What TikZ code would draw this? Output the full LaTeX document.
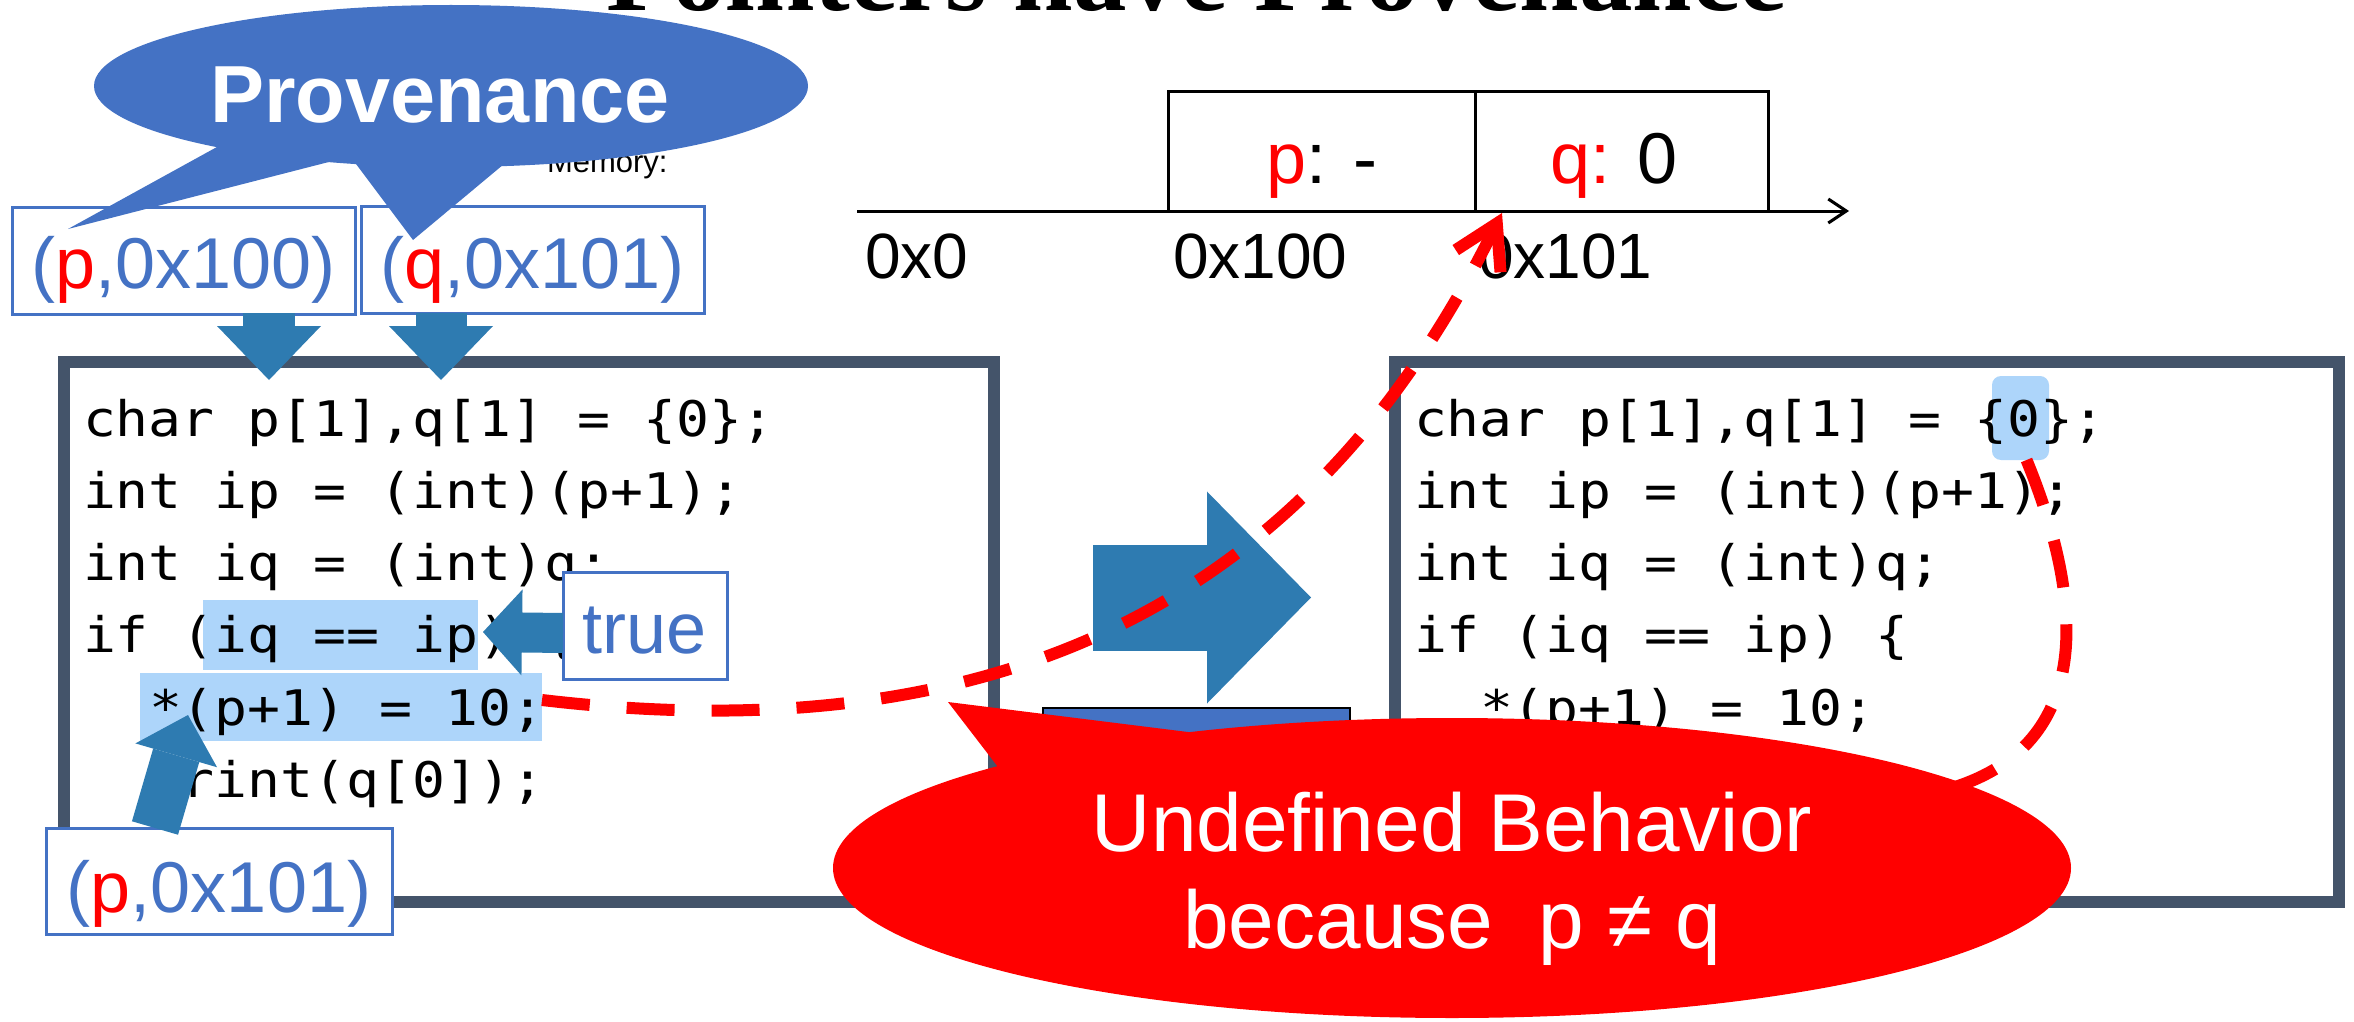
\documentclass[tikz,border=0pt]{standalone}
\usepackage{fontspec}
\setmainfont{Liberation Sans}
\newfontfamily\titlefont{Liberation Serif}
\newfontfamily\codefont{DejaVu Sans Mono}[FakeStretch=1.117]
\usetikzlibrary{arrows.meta,shapes.geometric}
\definecolor{provblue}{HTML}{4472C4}
\definecolor{arrowblue}{HTML}{2E7BB1}
\definecolor{slate}{HTML}{44546A}
\definecolor{hilite}{HTML}{ADD5FA}
\definecolor{ubred}{HTML}{FF0000}
\tikzset{
  every node/.style={inner sep=0pt, outer sep=0pt},
  lblbox/.style={draw=provblue, line width=3pt, fill=white, text=provblue, text depth=0pt, font=\fontsize{72}{80}\selectfont},
  codeln/.style={anchor=base west, font=\codefont\fontsize{49}{52}\selectfont},
  codebox/.style={draw=slate, line width=12pt, fill=white, minimum width=#1, minimum height=540pt},
  hl/.style={fill=hilite, anchor=north west},
  memcell/.style={draw=black, line width=3pt, minimum height=119pt, anchor=south west},
  memval/.style={anchor=base, font=\fontsize{72}{80}\selectfont},
  addr/.style={anchor=base west, font=\fontsize{64}{70}\selectfont},
  barrow/.style={draw=arrowblue, line width=#1},
  reddash/.style={draw=ubred, line width=12pt, dash pattern=on 48pt off 37pt},
}
\begin{document}
\begin{tikzpicture}[x=1pt,y=-1pt]
\useasboundingbox (0,0) rectangle (2354,1022);
\clip (0,0) rectangle (2354,1022);

% title (mostly outside the frame)
\node[anchor=base, font=\titlefont\bfseries\fontsize{107}{110}\selectfont] (title) at (1197,11) {Pointers have Provenance};

\node[anchor=base west, font=\fontsize{31}{34}\selectfont] (memtitle) at (547,173) {Memory:};

% memory diagram
\coordinate (axs) at (857,211);
\coordinate (axe) at (1849,211);
\node[memcell, minimum width=307pt] (cellp) at (1168,211) {};
\node[memcell, minimum width=293pt] (cellq) at (1475,211) {};
\draw[line width=3pt, -{Straight Barb[length=18pt,width=24pt]}] (axs) -- (axe);
\node[memval] (pval) at (1322,183) {\textcolor{ubred}{p}: -};
\node[memval] (qval) at (1614,183) {\textcolor{ubred}{q:} 0};
\node[addr] (a0) at (865,278) {0x0};
\node[addr] (a100) at (1173,278) {0x100};
\node[addr] (a101) at (1478,278) {0x101};

% code boxes
\node[codebox=930pt] (lcode) at (529,632) {};
\node[codebox=944pt] (rcode) at (1867,632) {};

\node[hl, minimum width=275pt, minimum height=70pt] (hlcond) at (203,600) {};
\node[hl, minimum width=402pt, minimum height=68pt] (hlstore) at (140,673) {};
\node[hl, minimum width=57pt, minimum height=84pt, rounded corners=9pt] (hlzero) at (1992,376) {};

\node[codeln] (l1) at (83,436) {char p[1],q[1] = \{0\};};
\node[codeln] (l2) at (83,508) {int ip = (int)(p+1);};
\node[codeln] (l3) at (83,580) {int iq = (int)q;};
\node[codeln] (l4) at (83,652) {if (iq == ip) \{};
\node[codeln] (l5) at (149,725) {*(p+1) = 10;};
\node[codeln] (l6) at (149,797) {print(q[0]);};
\node[codeln] (l7) at (83,869) {\}};

\node[codeln] (r1) at (1414,436) {char p[1],q[1] = \{0\};};
\node[codeln] (r2) at (1414,508) {int ip = (int)(p+1);};
\node[codeln] (r3) at (1414,580) {int iq = (int)q;};
\node[codeln] (r4) at (1414,652) {if (iq == ip) \{};
\node[codeln] (r5) at (1480,725) {*(p+1) = 10;};

% provenance label boxes and down arrows
\node[lblbox, minimum width=343pt, minimum height=107pt, text height=55pt] (pbox) at (183.5,260.5) {(\textcolor{ubred}{p},0x100)};
\node[lblbox, minimum width=343pt, minimum height=107pt, text height=57pt] (qbox) at (532.5,259.5) {(\textcolor{ubred}{q},0x101)};
\coordinate (d1s) at (269,313);
\coordinate (d1e) at (269,380);
\coordinate (d2s) at (441,313);
\coordinate (d2e) at (441,380);
\draw[barrow=52pt, -{Triangle[length=54pt,width=104pt,line width=0pt 0 0]}] (d1s) -- (d1e);
\draw[barrow=51pt, -{Triangle[length=54pt,width=104pt,line width=0pt 0 0]}] (d2s) -- (d2e);

% Provenance callout
\fill[provblue] (68,229) -- (246,131) -- (356,155) -- cycle;
\fill[provblue] (413,240) -- (341,144) -- (528,144) -- cycle;
\node[ellipse, fill=provblue, minimum width=714pt, minimum height=162pt] (prov) at (451,86) {};
\node[anchor=base, text=white, font=\bfseries\fontsize{81}{90}\selectfont] (provtxt) at (440,123) {Provenance};

% true box and arrow
\node[lblbox, minimum width=164pt, minimum height=107pt, text height=55pt] (truebox) at (645,625.5) {true};
\draw[barrow=40pt, -{Triangle[length=39pt,width=86pt,line width=0pt 0 0]}] ([yshift=-7.5pt]truebox.west) -- ([xshift=5pt,yshift=3pt]hlcond.east);

% (p,0x101) box and arrow
\node[lblbox, minimum width=346pt, minimum height=106pt, text height=62pt] (pbox101) at (219,881) {(\textcolor{ubred}{p},0x101)};
\coordinate (pstar) at (188,715);
\draw[barrow=48pt, -{Triangle[length=42pt,width=85pt,line width=0pt 0 0]}] ([xshift=-64pt]pbox101.north) -- (pstar);

% big transformation arrow
\coordinate (bas) at (1093,597.5);
\coordinate (bae) at (1311,597.5);
\draw[barrow=106pt, -{Triangle[length=104pt,width=212pt,line width=0pt 0 0]}] (bas) -- (bae);

% partially hidden blue rectangle
\node[draw=black, fill=provblue, line width=2pt, minimum width=307pt, minimum height=100pt, anchor=north west] (hidrect) at (1043,708) {};

% dashed curve from the 0 into the callout
\coordinate (ubend) at (1955,787);
\draw[reddash] ([xshift=6pt]hlzero.south) .. controls (2080,590) and (2100,740) .. (ubend);

% Undefined Behavior callout
\fill[ubred] (948,702) -- (1048,832) -- (1260,741) -- cycle;
\node[ellipse, fill=ubred, minimum width=1238pt, minimum height=300pt] (ub) at (1452,868) {};
\node[anchor=base, text=white, font=\fontsize{82}{90}\selectfont] (ub1) at (1452,851) {Undefined Behavior};
\node[anchor=base, text=white, font=\fontsize{82}{90}\selectfont] (ub2) at (1452,948) {because~~p ≠ q};

% dashed arrow from the store to address 0x101
\coordinate (tip101) at (1502,213);
\draw[reddash, -{Straight Barb[length=42pt,width=50pt]}] ([yshift=7pt]hlstore.east) .. controls (1050,760) and (1330,560) .. (tip101);
\end{tikzpicture}
\end{document}
